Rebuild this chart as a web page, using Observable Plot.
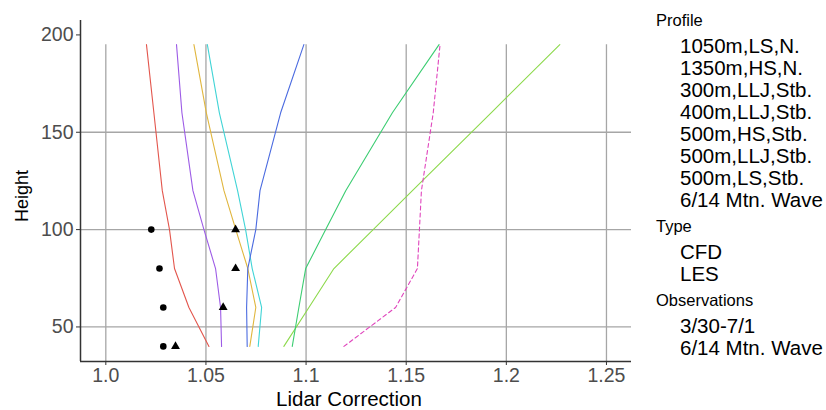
<!DOCTYPE html>
<html>
<head>
<meta charset="utf-8">
<script src="https://cdn.jsdelivr.net/npm/d3@7"></script>
<script src="https://cdn.jsdelivr.net/npm/@observablehq/plot@0.6"></script>
<style>
  body { margin: 0; background: #fff; font-family: "Liberation Sans", Arial, sans-serif; }
  #wrap { position: relative; width: 826px; height: 410px; overflow: hidden; }
  #chart { position: absolute; left: 0; top: 0; }
  #legend { position: absolute; left: 656px; top: 7px; color: #000; white-space: nowrap; }
  .ltitle { font-size: 16.5px; line-height: 26px; }
  .litems { font-size: 20.5px; line-height: 22px; padding-left: 24px; margin-top: 2px; }
  .sec + .sec { margin-top: 2px; }
</style>
</head>
<body>
<div id="wrap"><div id="chart"></div><div id="legend"></div></div>
<script>
// ---- data ----
const heights = [40, 60, 80, 100, 120, 160, 195];
const profiles = ["1050m,LS,N.", "1350m,HS,N.", "300m,LLJ,Stb.", "400m,LLJ,Stb.",
                  "500m,HS,Stb.", "500m,LLJ,Stb.", "500m,LS,Stb.", "6/14 Mtn. Wave"];
const profileType = ["CFD", "CFD", "CFD", "CFD", "CFD", "CFD", "CFD", "LES"];
const profileColors = ["#e3564d", "#e0b63e", "#8cd94b", "#3ccd72", "#40d4d6", "#4b6be0", "#9d5ce6", "#e046bd"];

const p1050LS  = [1.0515, 1.0415, 1.0343, 1.0318, 1.0282, 1.0240, 1.0203];
const p1350HS  = [1.0719, 1.0749, 1.0709, 1.0649, 1.0590, 1.0502, 1.0440];
const p300LLJ  = [1.0889, 1.1014, 1.1139, 1.1335, 1.1531, 1.1924, 1.2267];
const p400LLJ  = [1.0931, 1.0964, 1.0998, 1.1098, 1.1198, 1.1431, 1.1664];
const p500HS   = [1.0761, 1.0778, 1.0731, 1.0698, 1.0658, 1.0567, 1.0507];
const p500LLJ  = [1.0706, 1.0703, 1.0709, 1.0749, 1.0770, 1.0873, 1.0989];
const p500LS   = [1.0578, 1.0573, 1.0548, 1.0490, 1.0435, 1.0380, 1.0353];
const pMtnWave = [1.1189, 1.1447, 1.1556, 1.1566, 1.1576, 1.1635, 1.1669];
const profileValues = [p1050LS, p1350HS, p300LLJ, p400LLJ, p500HS, p500LLJ, p500LS, pMtnWave];

const obsNames = ["3/30-7/1", "6/14 Mtn. Wave"];
const obsHeights = [40, 60, 80, 100];
const obs3307 = [1.0287, 1.0287, 1.0268, 1.0227];
const obsMtn  = [1.0348, 1.0586, 1.0648, 1.0648];

const xTicks = [1.0, 1.05, 1.1, 1.15, 1.2, 1.25];
const xTickLabels = ["1.0", "1.05", "1.1", "1.15", "1.2", "1.25"];
const yTicks = [50, 100, 150, 200];
const yGrid = [50, 100, 150];
const typeNames = ["CFD", "LES"];

// ---- build tables ----
const lineRows = [];
profiles.forEach((p, i) => {
  heights.forEach((h, j) => lineRows.push({profile: p, type: profileType[i], height: h, value: profileValues[i][j]}));
});
const obsRows = [];
obsHeights.forEach((h, j) => {
  obsRows.push({obs: obsNames[0], height: h, value: obs3307[j]});
  obsRows.push({obs: obsNames[1], height: h, value: obsMtn[j]});
});

const xDomain = [0.98736, 1.2625];
const yDomain = [32.25, 207.4];
const gridColor = "#a6a6a6";

const chart = Plot.plot({
  width: 640,
  height: 410,
  marginLeft: 80,
  marginRight: 9,
  marginTop: 20,
  marginBottom: 49,
  style: {fontFamily: "'Liberation Sans', Arial, sans-serif", background: "transparent"},
  x: {domain: xDomain},
  y: {domain: yDomain},
  color: {domain: profiles, range: profileColors},
  marks: [
    Plot.ruleY(yGrid, {stroke: gridColor, strokeWidth: 1.3}),
    Plot.ruleX(xTicks, {y1: yDomain[0], y2: d3.max(heights), stroke: gridColor, strokeWidth: 1.3}),
    Plot.line(lineRows.filter(d => d.type === "CFD"), {x: "value", y: "height", z: "profile", stroke: "profile", strokeWidth: 1.1}),
    Plot.line(lineRows.filter(d => d.type === "LES"), {x: "value", y: "height", z: "profile", stroke: "profile", strokeWidth: 1.1, strokeDasharray: "4,3"}),
    Plot.dot(obsRows, {x: "value", y: "height", symbol: d => d.obs === obsNames[0] ? "circle" : "triangle", r: 3.3, fill: "#000", stroke: "none"}),
    Plot.ruleX([xDomain[0]], {stroke: "#333", strokeWidth: 1.5}),
    Plot.ruleY([yDomain[0]], {stroke: "#333", strokeWidth: 1.5}),
    Plot.axisX(xTicks, {tickFormat: (d, i) => xTickLabels[i], tickSize: 4, tickPadding: 3, fontSize: 19.5, fill: "#4d4d4d", stroke: "#333", label: null}),
    Plot.axisY(yTicks, {tickSize: 4, tickPadding: 3, fontSize: 19.5, fill: "#4d4d4d", stroke: "#333", label: null}),
    Plot.text(["Lidar Correction"], {frameAnchor: "bottom", dy: 38, dx: -7, lineAnchor: "middle", fontSize: 20.5, fill: "#000"}),
    Plot.text(["Height"], {frameAnchor: "left", dx: -58, dy: 5, rotate: -90, textAnchor: "middle", fontSize: 18, fill: "#000"})
  ]
});
document.getElementById("chart").appendChild(chart);

// ---- legend (text only, as in the reference) ----
const legend = document.getElementById("legend");
const sections = [["Profile", profiles], ["Type", typeNames], ["Observations", obsNames]];
sections.forEach(([title, items]) => {
  const sec = document.createElement("div");
  sec.className = "sec";
  const t = document.createElement("div");
  t.className = "ltitle";
  t.textContent = title;
  sec.appendChild(t);
  const it = document.createElement("div");
  it.className = "litems";
  items.forEach(s => { const d = document.createElement("div"); d.textContent = s; it.appendChild(d); });
  sec.appendChild(it);
  legend.appendChild(sec);
});
</script>
</body>
</html>
